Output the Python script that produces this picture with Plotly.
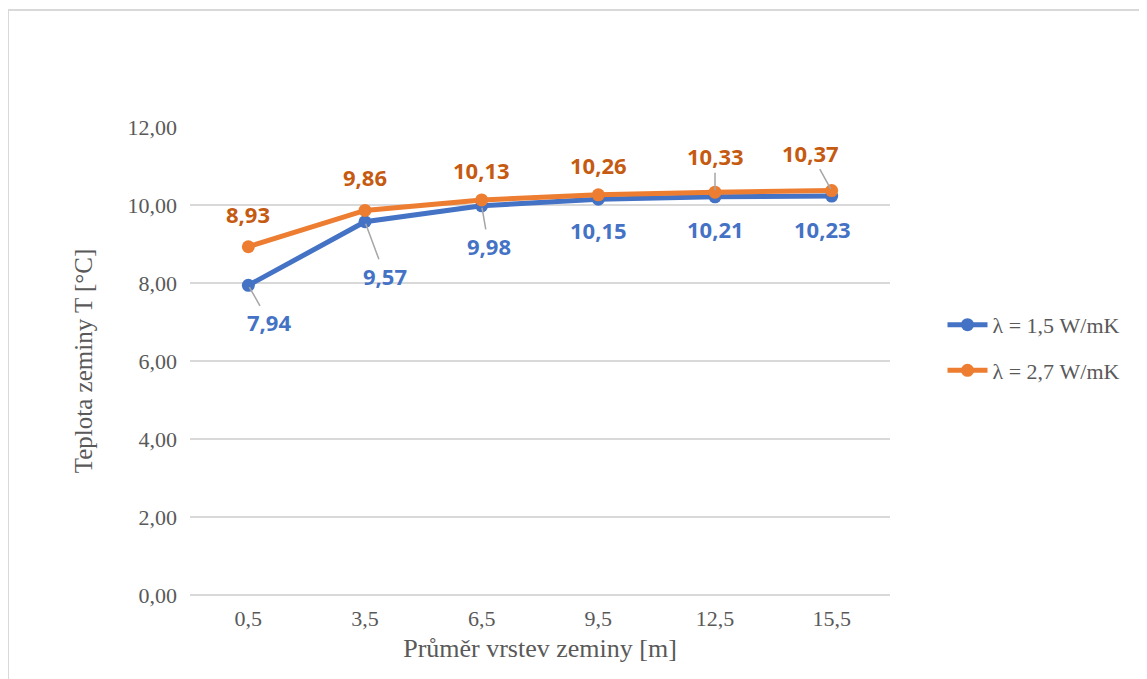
import plotly.graph_objects as go

categories = ["0,5", "3,5", "6,5", "9,5", "12,5", "15,5"]
series1_name = "λ = 1,5 W/mK"
series1 = [7.94, 9.57, 9.98, 10.15, 10.21, 10.23]
series2_name = "λ = 2,7 W/mK"
series2 = [8.93, 9.86, 10.13, 10.26, 10.33, 10.37]
y_ticks = [0, 2, 4, 6, 8, 10, 12]

BLUE = "#4472C4"
ORANGE = "#ED7D31"
BLUE_LBL = "#4472C4"
ORANGE_LBL = "#C55A11"
GRAY_TXT = "#595959"

fig = go.Figure()
fig.add_trace(go.Scatter(x=categories, y=series1, name=series1_name, mode="lines+markers",
                         line=dict(color=BLUE, width=5), marker=dict(size=13, color=BLUE),
                         legendgroup="a"))
fig.add_trace(go.Scatter(x=categories, y=series2, name=series2_name, mode="lines+markers",
                         line=dict(color=ORANGE, width=5), marker=dict(size=13, color=ORANGE),
                         legendgroup="b"))

def fmt(v):
    return f"{v:.2f}".replace(".", ",")

# label offsets (dx, dy in px, leader line?)
blue_off = [(21, 37, True), (20, 54, True), (7, 40, True), (0, 31, False), (0, 32, False), (-9, 33, False)]
orange_off = [(0, -33, False), (0, -33, False), (0, -30, False), (0, -30, False), (0, -36, True), (-21, -38, True)]

lblfont = dict(family="Open Sans", size=22)
for vals, offs, col in [(series1, blue_off, BLUE_LBL), (series2, orange_off, ORANGE_LBL)]:
    for c, v, (dx, dy, lead) in zip(categories, vals, offs):
        if lead:
            fig.add_annotation(x=c, y=v, text=f"<b>{fmt(v)}</b>", showarrow=True, arrowhead=0,
                               arrowwidth=1.5, arrowcolor="#A6A6A6", ax=dx, ay=dy,
                               font=dict(color=col, **lblfont), standoff=2)
        else:
            fig.add_annotation(x=c, y=v, text=f"<b>{fmt(v)}</b>", showarrow=False,
                               xshift=dx, yshift=-dy, font=dict(color=col, **lblfont))

fig.add_shape(type="rect", xref="paper", yref="paper", x0=-0.26, x1=1.38, y0=-0.2, y1=1.25,
              line=dict(color="#D9D9D9", width=2), fillcolor="rgba(0,0,0,0)", layer="below")

fig.update_layout(
    width=1139, height=671,
    margin=dict(l=182, r=257, t=119, b=84),
    paper_bgcolor="white", plot_bgcolor="white",
    separators=", ",
    font=dict(family="Liberation Serif", color=GRAY_TXT, size=22),
    xaxis=dict(type="category", range=[-0.5, len(categories) - 0.5], showgrid=False, showline=False, ticks="",
               tickfont=dict(family="Liberation Serif", size=22, color=GRAY_TXT), ticklabelstandoff=8,
               title=dict(text="Průměr vrstev zeminy [m]", font=dict(family="Liberation Serif", size=26, color=GRAY_TXT), standoff=8)),
    yaxis=dict(range=[0, 12], tickvals=y_ticks, tickformat=".2f", showgrid=True, gridcolor="#D9D9D9",
               gridwidth=2, zeroline=True, zerolinecolor="#D9D9D9", zerolinewidth=2, showline=False,
               tickfont=dict(family="Liberation Serif", size=22, color=GRAY_TXT), ticklabelstandoff=12,
               title=dict(text="Teplota zeminy T [°C]", font=dict(family="Liberation Serif", size=25, color=GRAY_TXT), standoff=27)),
    legend=dict(x=1.075, y=0.528, xanchor="left", yanchor="middle", traceorder="grouped",
                tracegroupgap=14, itemwidth=40, font=dict(size=22, color=GRAY_TXT, family="Liberation Serif"),
                bgcolor="rgba(0,0,0,0)"),
)

fig.write_html("out.html")
